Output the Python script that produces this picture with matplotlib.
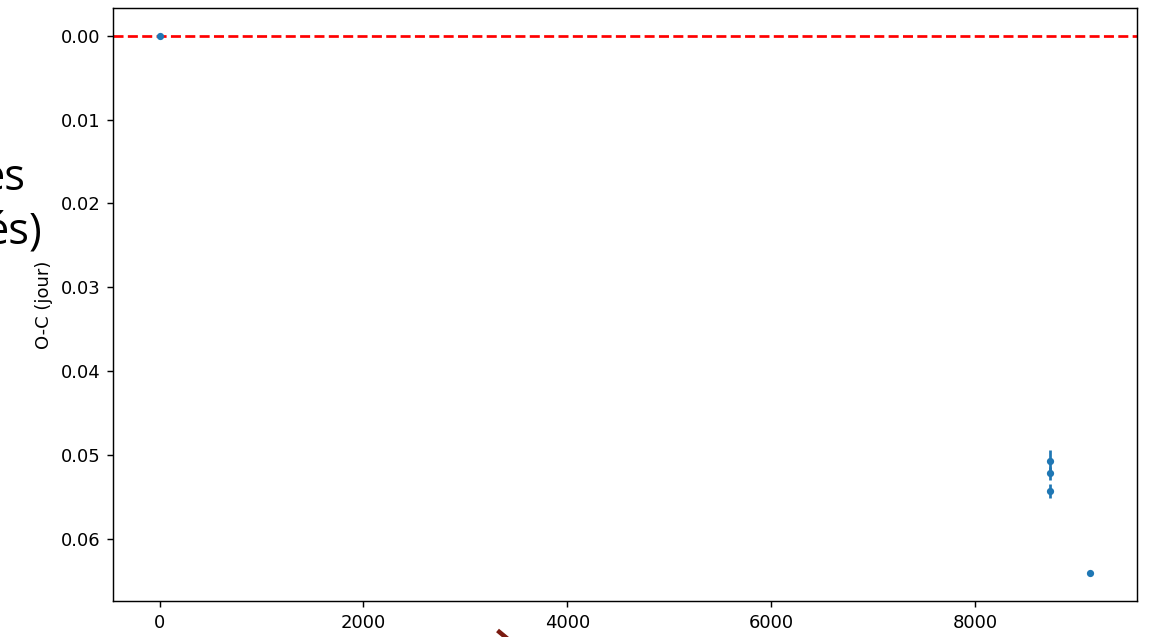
import matplotlib
matplotlib.use("Agg")
import matplotlib.pyplot as plt

epochs = [0, 8735, 8735, 8735, 9127]
oc = [0.0, 0.0507, 0.0522, 0.0543, 0.0641]
oc_err = [0.0001, 0.0013, 0.0008, 0.0008, 0.0001]

DPI = 130
fig = plt.figure(figsize=(1153 / DPI, 637 / DPI), dpi=DPI)
ax = fig.add_axes([0.098, 0.0565, 0.888, 0.931])
ax.errorbar(epochs, oc, yerr=oc_err, fmt='.', color='#1f77b4')
ax.axhline(0, color='red', linestyle='--')
ax.invert_yaxis()
ax.set_ylabel('O-C (jour)')

# slide background fragments
fig.text(0.0226, 0.7017, 'es', fontsize=24, family='Open Sans', ha='right', va='baseline')
fig.text(0.0364, 0.6185, 'és)', fontsize=24, family='Open Sans', ha='right', va='baseline')
fig.add_artist(plt.Line2D([0.433, 0.445], [0.008, -0.01], color='#7a1a10', lw=2.5,
                          transform=fig.transFigure))

fig.savefig('out.png', dpi=DPI)
